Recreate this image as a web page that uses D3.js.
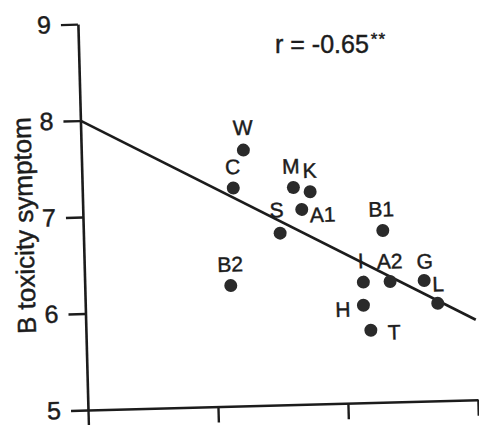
<!DOCTYPE html>
<html>
<head>
<meta charset="utf-8">
<script src="https://cdn.jsdelivr.net/npm/d3@7"></script>
<style>
  html, body { margin: 0; padding: 0; background: #fff; }
  svg { display: block; font-family: "Liberation Sans", Arial, Helvetica, sans-serif; }
  svg text { stroke: #1c1c1c; stroke-width: 0.45px; }
</style>
</head>
<body>
<svg id="chart" width="479" height="425"></svg>
<script>
// Cultivar codes and their scores
const cultivars = ["W", "C", "M", "K", "A1", "S", "B1", "B2", "I", "A2", "G", "L", "H", "T"];
const xValues = [1.247, 1.162, 1.624, 1.752, 1.684, 1.513, 2.303, 1.123, 2.143, 2.349, 2.611, 2.711, 2.139, 2.191];
const symptomScores = [7.65, 7.26, 7.25, 7.20, 7.02, 6.78, 6.78, 6.25, 6.25, 6.25, 6.25, 6.01, 6.01, 5.75];

// Fitted regression line end points
const fitX = [0, 3];
const fitY = [8.0, 5.83];

// Axis ticks
const xTickValues = [0, 1, 2, 3];
const yTickValues = [5, 6, 7, 8, 9];
const yTickLabels = ["5", "6", "7", "8", "9"];

const yAxisTitle = "B toxicity symptom";
const corrText = "r = -0.65";
const corrStars = "**";

// Where each point label sits relative to its dot
const labelPlacement = {
  W:  { anchor: "middle", dx: 0,   dy: -15 },
  C:  { anchor: "middle", dx: 0,   dy: -14 },
  M:  { anchor: "middle", dx: -2,  dy: -14 },
  K:  { anchor: "middle", dx: 0,   dy: -14 },
  A1: { anchor: "start",  dx: 8,   dy: 13 },
  S:  { anchor: "middle", dx: -3,  dy: -16 },
  B1: { anchor: "middle", dx: -1,  dy: -14 },
  B2: { anchor: "middle", dx: 0,   dy: -14 },
  I:  { anchor: "middle", dx: -2,  dy: -14 },
  A2: { anchor: "middle", dx: 0,   dy: -13 },
  G:  { anchor: "middle", dx: 1,   dy: -12 },
  L:  { anchor: "middle", dx: 1,   dy: -12 },
  H:  { anchor: "end",    dx: -13, dy: 11 },
  T:  { anchor: "start",  dx: 17,  dy: 10 }
};

const ink = "#1c1c1c";
const svg = d3.select("#chart");

const origin = { x: 88, y: 410 };
const plotW = 390, plotH = 386;

// The whole plot frame sits at a slight tilt
const frame = svg.append("g")
  .attr("transform", `rotate(-1.5 ${origin.x} ${origin.y})`)
  .append("g")
  .attr("transform", `translate(${origin.x},${origin.y - plotH})`);

const x = d3.scaleLinear().domain([0, 3]).range([0, plotW]);
const y = d3.scaleLinear().domain([5, 9]).range([plotH, 0]);

// Y axis
const yAxis = frame.append("g")
  .call(d3.axisLeft(y)
    .tickValues(yTickValues)
    .tickFormat((d, i) => yTickLabels[i])
    .tickSize(17)
    .tickSizeOuter(0)
    .tickPadding(10));
yAxis.select(".domain").attr("stroke", ink).attr("stroke-width", 2.6);
yAxis.selectAll(".tick line").attr("stroke", ink).attr("stroke-width", 2.4);
yAxis.selectAll(".tick text")
  .attr("fill", ink)
  .attr("font-size", 25)
  .attr("font-family", "Liberation Sans, Arial, sans-serif");

// X axis (tick marks only)
const xAxis = frame.append("g")
  .attr("transform", `translate(0,${plotH})`)
  .call(d3.axisBottom(x)
    .tickValues(xTickValues)
    .tickFormat("")
    .tickSize(16)
    .tickSizeOuter(0));
xAxis.select(".domain").attr("stroke", ink).attr("stroke-width", 2.6);
xAxis.selectAll(".tick line").attr("stroke", ink).attr("stroke-width", 2.4);

// Y axis title
frame.append("text")
  .attr("transform", `translate(-50,${plotH - 186}) rotate(-90)`)
  .attr("text-anchor", "middle")
  .attr("font-size", 26)
  .attr("fill", ink)
  .text(yAxisTitle);

// Regression line
const fitLine = d3.line().x(d => x(d[0])).y(d => y(d[1]));
frame.append("path")
  .datum(d3.zip(fitX, fitY))
  .attr("d", fitLine)
  .attr("fill", "none")
  .attr("stroke", ink)
  .attr("stroke-width", 2.6);

// Points
const points = cultivars.map((c, i) => ({ name: c, x: xValues[i], y: symptomScores[i] }));

frame.append("g")
  .selectAll("circle")
  .data(points)
  .join("circle")
  .attr("cx", d => x(d.x))
  .attr("cy", d => y(d.y))
  .attr("r", 6.5)
  .attr("fill", "#2a2a2a");

frame.append("g")
  .selectAll("text")
  .data(points)
  .join("text")
  .attr("x", d => x(d.x) + labelPlacement[d.name].dx)
  .attr("y", d => y(d.y) + labelPlacement[d.name].dy)
  .attr("text-anchor", d => labelPlacement[d.name].anchor)
  .attr("font-size", 21)
  .attr("fill", ink)
  .text(d => d.name);

// Correlation annotation
const corr = svg.append("text")
  .attr("x", 275)
  .attr("y", 53)
  .attr("font-size", 25)
  .attr("fill", ink)
  .text(corrText);
corr.append("tspan")
  .attr("dx", 2)
  .attr("dy", -8)
  .attr("font-size", 17)
  .attr("letter-spacing", 1)
  .text(corrStars);
</script>
</body>
</html>
